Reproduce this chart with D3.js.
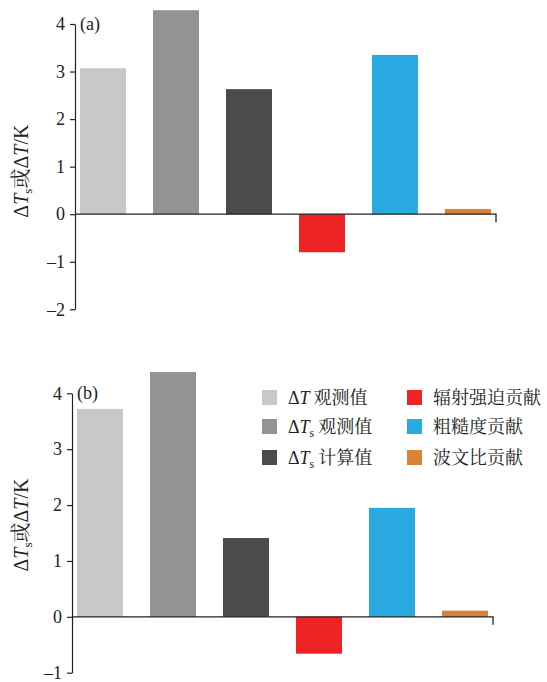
<!DOCTYPE html>
<html>
<head>
<meta charset="utf-8">
<script src="https://cdn.jsdelivr.net/npm/d3@7/dist/d3.min.js"></script>
<style>
  body { margin: 0; background: #fff; }
  svg text { font-family: "Liberation Serif", "DejaVu Serif", serif; fill: #222; }
  .cjk { font-family: "Noto Serif CJK SC", "Noto Sans CJK SC", serif; }
</style>
</head>
<body>
<div id="chart"></div>
<script>
//Data
const categories = ["ΔT 观测值", "ΔTs 观测值", "ΔTs 计算值", "辐射强迫贡献", "粗糙度贡献", "波文比贡献"];
const valuesA = [3.07, 4.29, 2.63, -0.80, 3.35, 0.11];
const valuesB = [3.72, 4.38, 1.41, -0.66, 1.95, 0.11];
const ticksA = [-2, -1, 0, 1, 2, 3, 4];
const ticksB = [-1, 0, 1, 2, 3, 4];
const colors = ["#c8c8ca", "#939396", "#4a4b4d", "#ee2424", "#29abe2", "#db823a"];

const width = 547, height = 682;
const fontSize = 18;

const svg = d3.select("#chart").append("svg")
    .attr("width", width)
    .attr("height", height);

//Draw one panel
function drawPanel(opts) {
    const g = svg.append("g");
    const y = d3.scaleLinear().domain(opts.domain).range([opts.bottom, opts.top]);
    const x = d3.scaleBand()
        .domain(categories)
        .range([opts.axisX + 5, opts.axisEnd - 5])
        .paddingInner(0.37)
        .paddingOuter(0);

    //bars
    g.selectAll(".bar")
        .data(opts.values)
        .enter().append("rect")
        .attr("x", (d, i) => x(categories[i]))
        .attr("width", x.bandwidth())
        .attr("y", d => y(Math.max(0, d)))
        .attr("height", d => Math.abs(y(d) - y(0)))
        .style("fill", (d, i) => colors[i]);

    //y axis
    const yAxis = d3.axisLeft(y)
        .tickValues(opts.ticks)
        .tickSize(5)
        .tickSizeOuter(0)
        .tickPadding(5)
        .tickFormat(d => d < 0 ? "\u2013" + Math.abs(d) : d);
    const ya = g.append("g")
        .attr("transform", `translate(${opts.axisX},0)`)
        .call(yAxis);
    ya.selectAll("path, line").style("stroke", "#222").style("stroke-width", 1.2);
    ya.selectAll("text")
        .style("font-family", "'Liberation Serif', serif")
        .style("font-size", fontSize + "px")
        .style("fill", "#222");

    //zero line with end tick
    g.append("path")
        .attr("d", `M${opts.axisX},${y(0)}H${opts.axisEnd}V${y(0) + 8}`)
        .style("fill", "none")
        .style("stroke", "#222")
        .style("stroke-width", 1.3);

    //panel label
    g.append("text")
        .attr("x", opts.axisX + 5)
        .attr("y", y(opts.domain[1]) + 6)
        .style("font-size", fontSize + "px")
        .text(opts.label);

    //y label
    const cy = (y(0) + y(opts.domain[1])) / 2 + opts.labelShift;
    const lab = g.append("text")
        .attr("transform", `translate(28,${cy}) rotate(-90)`)
        .attr("text-anchor", "middle")
        .style("font-size", "20px");
    lab.append("tspan").text("Δ");
    lab.append("tspan").style("font-style", "italic").text("T");
    lab.append("tspan").attr("dy", 4).style("font-size", "13px").text("s");
    lab.append("tspan").attr("dy", -4).attr("class", "cjk").text("或");
    lab.append("tspan").text("Δ");
    lab.append("tspan").style("font-style", "italic").text("T");
    lab.append("tspan").text("/K");
}

drawPanel({
    values: valuesA, ticks: ticksA, domain: [-2, 4],
    top: 24, bottom: 309.3, axisX: 75, axisEnd: 496,
    label: "(a)", labelShift: 52
});

drawPanel({
    values: valuesB, ticks: ticksB, domain: [-1, 4],
    top: 393.3, bottom: 672.7, axisX: 72, axisEnd: 493,
    label: "(b)", labelShift: 20
});

//legend
const legendX = [262, 407];
const legendY = [390, 419, 450];
const legend = svg.append("g");
categories.forEach((c, i) => {
    const col = Math.floor(i / 3), row = i % 3;
    const lx = legendX[col], ly = legendY[row];
    legend.append("rect")
        .attr("x", lx).attr("y", ly)
        .attr("width", 15).attr("height", 15)
        .style("fill", colors[i]);
    const t = legend.append("text")
        .attr("x", lx + 26)
        .attr("y", ly + 14)
        .style("font-size", fontSize + "px");
    if (col === 0) {
        const parts = c.split(" ");
        t.append("tspan").text("Δ");
        t.append("tspan").style("font-style", "italic").text("T");
        if (parts[0].endsWith("s")) {
            t.append("tspan").attr("dy", 4).style("font-size", "12px").text("s");
            t.append("tspan").attr("dy", -4).attr("dx", 4).attr("class", "cjk").text(parts[1]);
        } else {
            t.append("tspan").attr("dx", 4).attr("class", "cjk").text(parts[1]);
        }
    } else {
        t.append("tspan").attr("class", "cjk").text(c);
    }
});
</script>
</body>
</html>
